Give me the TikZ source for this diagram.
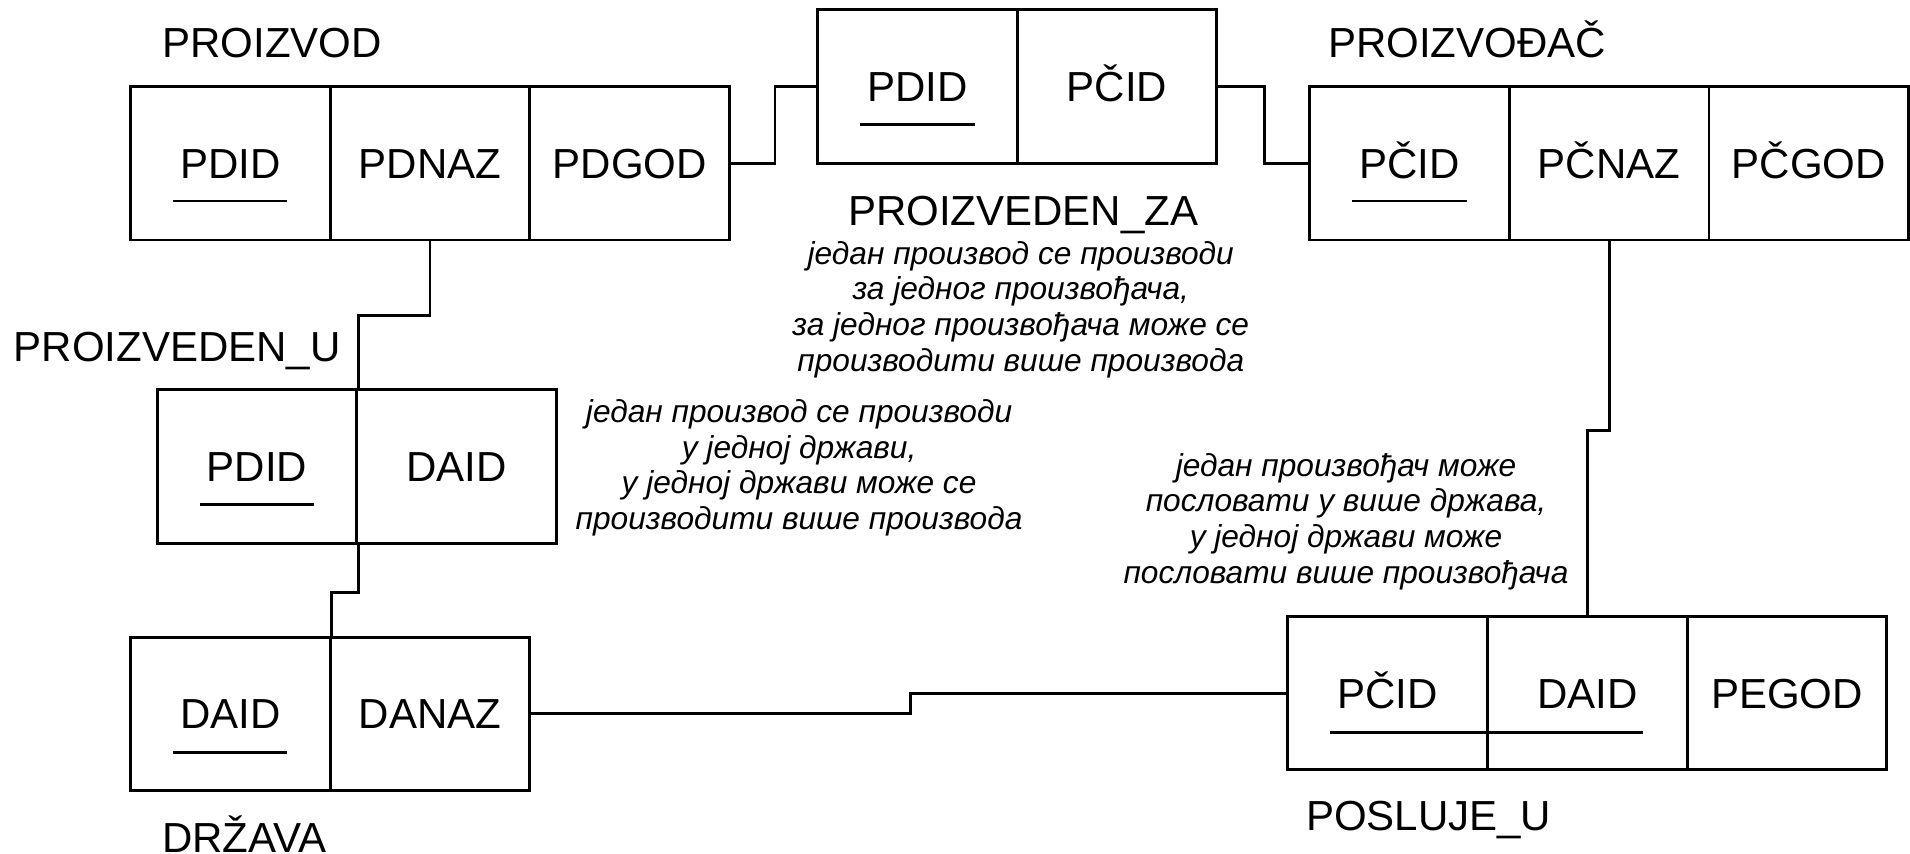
\documentclass[tikz,border=0pt]{standalone}
\usepackage{fontspec}
\setmainfont{Liberation Sans}
\begin{document}
\begin{tikzpicture}[x=1pt,y=-1pt,
  line width=2.4pt,
  cell/.style={draw, minimum width=164pt, minimum height=126pt, inner sep=0pt, text height=24.7pt, text depth=0pt, font=\fontsize{34.5}{40}\selectfont},
  lbl/.style={inner sep=0pt, font=\fontsize{34.5}{40}\selectfont},
  note/.style={inner sep=0pt, align=center, font=\fontsize{26}{29.3}\selectfont\itshape},
  key/.style={line width=2.4pt}]
\useasboundingbox (0,0) rectangle (1568,701);
% PROIZVOD
\node[lbl, anchor=base west] (lpd) at (132,47.5) {PROIZVOD};
\node[cell] (pdid) at (189,134) {PDID};
\node[cell] (pdnaz) at (353,134) {PDNAZ};
\node[cell] (pdgod) at (517,134) {PDGOD};
\draw[key] (pdid.center) ++(-47,31) -- ++(94,0);
% PROIZVEDEN_ZA
\node[cell] (zpdid) at (753,71) {PDID};
\node[cell] (zpcid) at (917,71) {PČID};
\draw[key] (zpdid.center) ++(-47,31) -- ++(94,0);
\node[lbl, anchor=base] (lza) at (840,185) {PROIZVEDEN\_ZA};
\node[note] (nza) at (838,254) {један производ се производи\\за једног произвођача,\\за једног произвођача може се\\ производити више производа};
% PROIZVODJAC
\node[lbl, anchor=base west] (lpc) at (1089,47.5) {PROIZVOĐAČ};
\node[cell] (pcid) at (1157,134) {PČID};
\node[cell] (pcnaz) at (1321,134) {PČNAZ};
\node[cell] (pcgod) at (1485,134) {PČGOD};
\draw[key] (pcid.center) ++(-47,31) -- ++(94,0);
% PROIZVEDEN_U
\node[lbl, anchor=base west] (lpu) at (10,297) {PROIZVEDEN\_U};
\node[cell] (updid) at (211,383) {PDID};
\node[cell] (udaid) at (375,383) {DAID};
\draw[key] (updid.center) ++(-47,31) -- ++(94,0);
\node[note] (nu) at (656,384) {један производ се производи\\у једној држави,\\у једној држави може се\\производити више производа};
% DRZAVA
\node[cell] (daid) at (189,586) {DAID};
\node[cell] (danaz) at (353,586) {DANAZ};
\draw[key] (daid.center) ++(-47,32) -- ++(94,0);
\node[lbl, anchor=base west] (lda) at (132,700) {DRŽAVA};
% POSLUJE_U
\node[cell] (ppcid) at (1139,569) {PČID};
\node[cell] (pdaid) at (1303,569) {DAID};
\node[cell] (pegod) at (1467,569) {PEGOD};
\draw[key] (ppcid.center) ++(-47,32) -- ++(257,0);
\node[lbl, anchor=base west] (lpo) at (1071,681.5) {POSLUJE\_U};
\node[note] (npo) at (1105,428) {један произвођач може\\пословати у више држава,\\у једној држави може\\пословати више произвођача};
% connectors
\draw (pdgod.east) -- ++(36,0) |- (zpdid.west);
\draw (zpcid.east) -- ++(38,0) |- (pcid.west);
\draw (pdnaz.south) -- ++(0,61) -| (updid.north east);
\draw (updid.south east) -- ++(0,39) -| (daid.north east);
\draw (danaz.east) -- ++(311,0) |- (ppcid.west);
\draw (pcnaz.south) -- ++(0,155) -| (pdaid.north);
\end{tikzpicture}
\end{document}
